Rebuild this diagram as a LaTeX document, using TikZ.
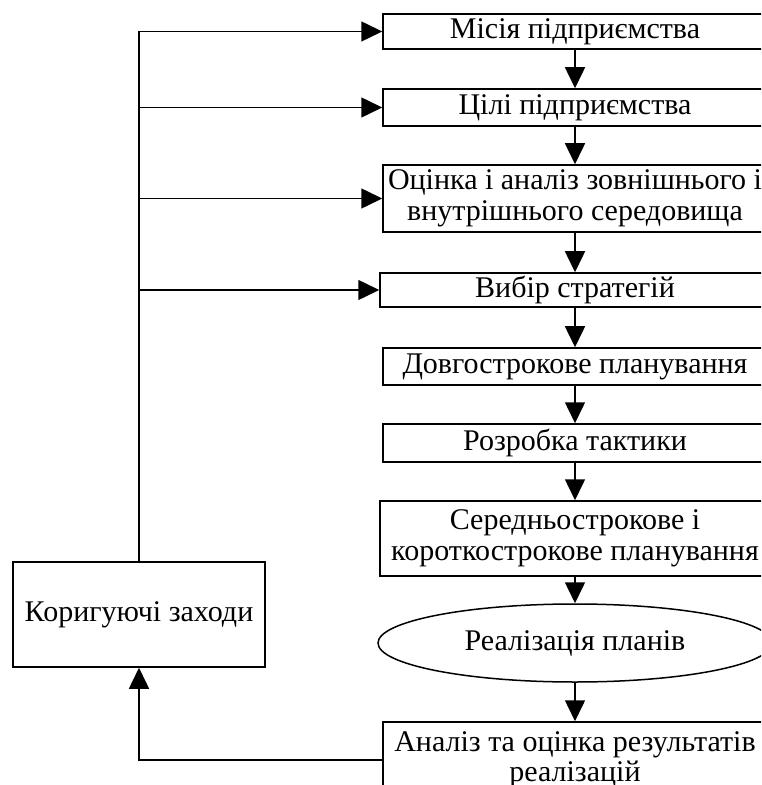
\documentclass[tikz,border=0pt]{standalone}
\usepackage{fontspec}
\setmainfont{Liberation Serif}
\usetikzlibrary{arrows.meta,shapes.geometric}
\tikzset{
  blok/.style={draw, line width=0.75pt, minimum width=192pt, inner sep=0pt, align=center,
    font=\fontsize{15}{15.2}\selectfont},
  arr/.style={line width=0.75pt, -{Triangle[length=10.5pt,width=10pt]}},
}
\begin{document}
\begin{tikzpicture}[x=0.5pt,y=-0.5pt]
        \clip (0,0) rectangle (761,785);
        \node[blok, minimum height=17.5pt] (misija) at (575,31.5) {Місія підприємства};
        \node[blok, minimum height=18.5pt] (cili) at (575,107.5) {Цілі підприємства};
        \node[blok, minimum height=33.5pt] (ocinka) at (575,198.5) {Оцінка і аналіз зовнішнього і\\ внутрішнього середовища};
        \node[blok, minimum height=17pt, minimum width=195pt] (vybir) at (575,290) {Вибір стратегій};
        \node[blok, minimum height=18.5pt] (dovgo) at (575,366.5) {Довгострокове планування};
        \node[blok, minimum height=19pt] (taktyka) at (575,443) {Розробка тактики};
        \node[blok, minimum height=37.5pt, minimum width=195pt] (seredno) at (575,538.5) {Середньострокове і\\ короткострокове планування};
        \node[blok, ellipse, minimum height=39pt, minimum width=197pt] (realiz) at (575,643) {Реалізація планів};
        \node[blok, minimum height=38pt] (analiz) at (575,760) {Аналіз та оцінка результатів\\ реалізацій};

        \node[blok, minimum height=52.5pt, minimum width=126pt] (korig) at (139,614.5) {Коригуючі заходи};

        \draw[arr] (misija) -- (cili);
        \draw[arr] (cili) -- (ocinka);
        \draw[arr] (ocinka) -- (vybir);
        \draw[arr] (vybir) -- (dovgo);
        \draw[arr] (dovgo) -- (taktyka);
        \draw[arr] (taktyka) -- (seredno);
        \draw[arr] (seredno) -- (realiz);
        \draw[arr] (realiz) -- (analiz);

        \draw[arr] (analiz.west) -| (korig.south);
        \coordinate (verh) at (korig.north |- misija.west);
        \draw[line width=0.75pt] (korig.north) -- (verh);
        \foreach \n in {misija,cili,ocinka,vybir}
          \draw[arr] (verh |- \n.west) -- (\n.west);
\end{tikzpicture}
\end{document}
